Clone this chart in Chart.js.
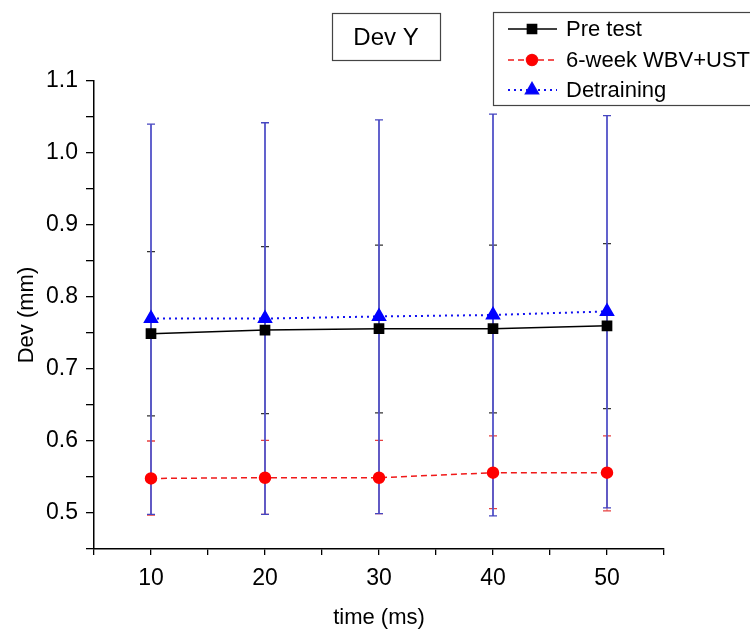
<!DOCTYPE html>
<html lang="en">
<head>
<meta charset="UTF-8">
<title>Dev Y</title>
<script src="https://cdn.jsdelivr.net/npm/chart.js"></script>
<style>
  html, body { margin: 0; padding: 0; background: #fff; }
  #wrap { width: 750px; height: 631px; }
</style>
</head>
<body>
<div id="wrap"><canvas id="devChart" width="750" height="631"></canvas></div>
<script>
// time points (ms)
const times = [10, 20, 30, 40, 50];

// Pre test
const preTest = [0.749, 0.754, 0.756, 0.756, 0.760];
const preHi   = [0.863, 0.870, 0.872, 0.872, 0.874];
const preLo   = [0.635, 0.638, 0.639, 0.639, 0.645];

// 6-week WBV+UST
const wbv   = [0.548, 0.549, 0.549, 0.556, 0.556];
const wbvHi = [0.600, 0.601, 0.601, 0.607, 0.607];
const wbvLo = [0.497, 0.498, 0.499, 0.506, 0.503];

// Detraining
const detr   = [0.770, 0.770, 0.773, 0.775, 0.780];
const detrHi = [1.040, 1.042, 1.046, 1.054, 1.052];
const detrLo = [0.498, 0.498, 0.499, 0.496, 0.507];

const seriesNames = ['Pre test', '6-week WBV+UST', 'Detraining'];
const chartTitle = 'Dev Y';

const FONT = '"Liberation Sans", Arial, sans-serif';

function pts(vals) {
    return times.map((t, i) => ({ x: t, y: vals[i] }));
}

// error bars, drawn under the markers
const errorBars = {
    id: 'errorBars',
    beforeDatasetsDraw(chart) {
        const ctx = chart.ctx;
        const xs = chart.scales.x, ys = chart.scales.y;
        const sets = [
            { lo: preLo, hi: preHi, line: '#333', cap: '#333', w: 0.8 },
            { lo: wbvLo, hi: wbvHi, line: '#e03030', cap: '#e84040', w: 0.8 },
            { lo: detrLo, hi: detrHi, line: '#5252c8', cap: '#4646c0', w: 1.8 }
        ];
        ctx.save();
        sets.forEach(s => {
            times.forEach((t, i) => {
                const x = xs.getPixelForValue(t);
                const y1 = ys.getPixelForValue(s.lo[i]);
                const y2 = ys.getPixelForValue(s.hi[i]);
                ctx.strokeStyle = s.line;
                ctx.lineWidth = s.w;
                ctx.beginPath();
                ctx.moveTo(x, y1);
                ctx.lineTo(x, y2);
                ctx.stroke();
                ctx.strokeStyle = s.cap;
                ctx.lineWidth = 1.3;
                ctx.beginPath();
                ctx.moveTo(x - 4, y1); ctx.lineTo(x + 4, y1);
                ctx.moveTo(x - 4, y2); ctx.lineTo(x + 4, y2);
                ctx.stroke();
            });
        });
        ctx.restore();
    }
};

// boxed title and boxed legend
const boxes = {
    id: 'boxes',
    afterDraw(chart) {
        const ctx = chart.ctx;
        ctx.save();
        // title
        ctx.strokeStyle = '#444';
        ctx.lineWidth = 1.2;
        ctx.strokeRect(332.5, 13.5, 108, 47);
        ctx.fillStyle = '#000';
        ctx.font = '24px ' + FONT;
        ctx.textAlign = 'center';
        ctx.textBaseline = 'middle';
        ctx.fillText(chartTitle, 386, 38);

        // legend
        ctx.strokeRect(493.5, 12.5, 270, 93);
        ctx.font = '22px ' + FONT;
        ctx.textAlign = 'left';
        const rowY = [29, 60, 90];
        chart.data.datasets.forEach((ds, i) => {
            const y = rowY[i];
            ctx.strokeStyle = ds.borderColor;
            ctx.lineWidth = ds.borderWidth;
            ctx.setLineDash(ds.borderDash || []);
            ctx.beginPath();
            ctx.moveTo(508, y);
            ctx.lineTo(557, y);
            ctx.stroke();
            ctx.setLineDash([]);
            Chart.helpers.drawPoint(ctx, {
                pointStyle: ds.pointStyle,
                radius: ds.pointRadius,
                borderWidth: 1
            }, 532, y);
            ctx.fillStyle = ds.pointBackgroundColor;
            ctx.strokeStyle = ds.pointBackgroundColor;
            ctx.fill();
            ctx.fillStyle = '#000';
            ctx.fillText(ds.label, 566, y + 1);
        });
        ctx.restore();
    }
};

new Chart(document.getElementById('devChart'), {
    type: 'line',
    data: {
        datasets: [
            {
                label: seriesNames[0],
                data: pts(preTest),
                borderColor: '#000',
                borderWidth: 1.5,
                pointStyle: 'rect',
                pointRadius: 6.5,
                pointBackgroundColor: '#000',
                pointBorderColor: '#000'
            },
            {
                label: seriesNames[1],
                data: pts(wbv),
                borderColor: '#f01818',
                borderWidth: 1.5,
                borderDash: [6, 4],
                pointStyle: 'circle',
                pointRadius: 5.5,
                pointBackgroundColor: '#ff0000',
                pointBorderColor: '#ff0000'
            },
            {
                label: seriesNames[2],
                data: pts(detr),
                borderColor: '#1010f0',
                borderWidth: 2,
                borderDash: [2, 4],
                pointStyle: 'triangle',
                pointRadius: 7,
                pointBackgroundColor: '#0000ff',
                pointBorderColor: '#0000ff'
            }
        ]
    },
    options: {
        responsive: false,
        animation: false,
        layout: { padding: { top: 81, right: 86, left: 0, bottom: 0 } },
        plugins: {
            legend: { display: false },
            title: { display: false },
            tooltip: { enabled: false }
        },
        scales: {
            x: {
                type: 'linear',
                min: 5,
                max: 55,
                afterFit(scale) { scale.height = 82; },
                border: { display: true, color: '#000', width: 1.5 },
                grid: { drawOnChartArea: false, drawTicks: true, tickLength: 6, color: '#000', lineWidth: 1.3 },
                ticks: {
                    stepSize: 5,
                    padding: 10,
                    color: '#000',
                    font: { family: FONT, size: 23 },
                    callback: v => (v % 10 === 0 ? String(v) : '')
                },
                title: {
                    display: true,
                    text: 'time (ms)',
                    color: '#000',
                    font: { family: FONT, size: 22 },
                    padding: { top: 0, bottom: 0 }
                }
            },
            y: {
                min: 0.45,
                max: 1.1,
                afterFit(scale) { scale.width = 94; },
                border: { display: true, color: '#000', width: 1.5 },
                grid: { drawOnChartArea: false, drawTicks: true, tickLength: 8, color: '#000', lineWidth: 1.3 },
                ticks: {
                    stepSize: 0.05,
                    padding: 8,
                    color: '#000',
                    font: { family: FONT, size: 23 },
                    callback: v => {
                        const k = Math.round(v * 100);
                        return k % 10 === 0 ? (k / 100).toFixed(1) : '';
                    }
                },
                title: {
                    display: true,
                    text: 'Dev (mm)',
                    color: '#000',
                    font: { family: FONT, size: 22 },
                    padding: { top: 14, bottom: 0 }
                }
            }
        }
    },
    plugins: [errorBars, boxes]
});
</script>
</body>
</html>
